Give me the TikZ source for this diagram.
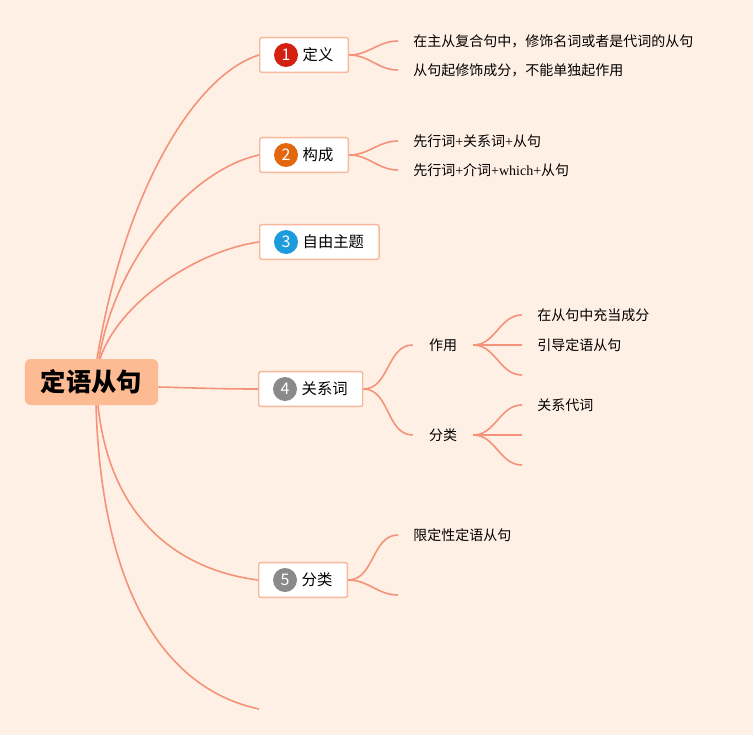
\documentclass[tikz,border=0pt]{standalone}
\usepackage{fontspec}
\setmainfont{Noto Sans CJK SC}
\newfontfamily\plusfont{Liberation Serif}
\usepackage{tikz}
\usetikzlibrary{calc}

\definecolor{bgpeach}{HTML}{FFF0E5}
\definecolor{branchline}{HTML}{F4937A}
\definecolor{boxline}{HTML}{F8B89C}
\definecolor{rootfill}{HTML}{FDBB94}
\definecolor{badgered}{HTML}{D32011}
\definecolor{badgeorange}{HTML}{E3670F}
\definecolor{badgeblue}{HTML}{1D9BDC}
\definecolor{badgegrey}{HTML}{8A8A8A}

\newcommand{\plus}{{\plusfont +}}

\begin{document}
\begin{tikzpicture}[x=0.75pt,y=-0.75pt,
                root/.style={fill=rootfill,rounded corners=4.5pt,minimum height=34.5pt,inner xsep=12pt,font=\fontsize{19}{22}\selectfont\bfseries},
                topic/.style={draw=boxline,line width=1.1pt,fill=white,rounded corners=1.5pt,anchor=west,minimum height=26pt,inner xsep=11.25pt,font=\fontsize{11.5}{13}\selectfont},
                badge/.style={circle,fill=#1,text=white,minimum size=18pt,inner sep=0pt,font=\fontsize{12}{13}\selectfont},
                midtopic/.style={inner xsep=12pt,font=\fontsize{10.5}{12}\selectfont},
                leaf/.style={anchor=west,inner xsep=11.25pt,font=\fontsize{10.5}{12}\selectfont},
                branch/.style={draw=branchline,line width=1.2pt}
            ]
                \useasboundingbox[fill=bgpeach] (0,0) rectangle (753,735);

                \node[root] (root) at (91.5,382) {定语从句};

                \node[topic] (t1) at (259,55) {\hspace{21pt}定义};
                \node[badge=badgered] (b1) at (286,55) {1};
                \node[topic] (t2) at (259,155) {\hspace{21pt}构成};
                \node[badge=badgeorange] (b2) at (286,155) {2};
                \node[topic] (t3) at (259,242) {\hspace{21pt}自由主题};
                \node[badge=badgeblue] (b3) at (286,242) {3};
                \node[topic] (t4) at (258,389) {\hspace{21pt}关系词};
                \node[badge=badgegrey] (b4) at (285,389) {4};
                \node[topic] (t5) at (258,580) {\hspace{21pt}分类};
                \node[badge=badgegrey] (b5) at (285,580) {5};
                \coordinate (tail) at (259,709);

                \draw[branch] ($(root.north)+(5.5,0)$) .. controls +(28,-169) and +(-64,20) .. (t1.west);
                \draw[branch] ($(root.north)+(7.5,0)$) .. controls +(16,-99) and +(-69,15) .. (t2.west);
                \draw[branch] ($(root.north)+(8.5,0)$) .. controls +(20,-59) and +(-59,8) .. (t3.west);
                \draw[branch] ($(root.east)+(0,5)$) .. controls +(40,1) and +(-40,0) .. (t4.west);
                \draw[branch] ($(root.south)+(6.5,0)$) .. controls +(12,115) and +(-78,-10) .. (t5.west);
                \draw[branch] ($(root.south)+(4.5,0)$) .. controls +(6,195) and +(-89,-19) .. (tail);

                % definition
                \node[leaf] (d1) at (398,41) {在主从复合句中，修饰名词或者是代词的从句};
                \node[leaf] (d2) at (398,70) {从句起修饰成分，不能单独起作用};
                \foreach \n in {d1,d2}
                    \draw[branch] (t1.east) to[out=0,in=180] (\n.west);

                % structure
                \node[leaf] (s1) at (398,141) {先行词\plus 关系词\plus 从句};
                \node[leaf] (s2) at (398,170) {先行词\plus 介词{\plusfont +which+}从句};
                \foreach \n in {s1,s2}
                    \draw[branch] (t2.east) to[out=0,in=180] (\n.west);

                % relative words
                \node[midtopic] (role) at (443,345) {作用};
                \node[midtopic] (kind) at (443,435) {分类};
                \foreach \n in {role,kind}
                    \draw[branch] (t4.east) to[out=0,in=180] (\n.west);

                \node[leaf] (r1) at (522,315) {在从句中充当成分};
                \node[leaf] (r2) at (522,345) {引导定语从句};
                \coordinate (r3) at (522,375);
                \draw[branch] (role.east) to[out=0,in=180] (r1.west);
                \draw[branch] (role.east) to[out=0,in=180] (r2.west);
                \draw[branch] (role.east) to[out=0,in=180] (r3);

                \node[leaf] (k1) at (522,405) {关系代词};
                \coordinate (k2) at (522,435);
                \coordinate (k3) at (522,465);
                \draw[branch] (kind.east) to[out=0,in=180] (k1.west);
                \draw[branch] (kind.east) to[out=0,in=180] (k2);
                \draw[branch] (kind.east) to[out=0,in=180] (k3);

                % classification
                \node[leaf] (c1) at (398,535) {限定性定语从句};
                \coordinate (c2) at (398,595);
                \draw[branch] (t5.east) to[out=0,in=180] (c1.west);
                \draw[branch] (t5.east) to[out=0,in=180] (c2);
            \end{tikzpicture}
\end{document}
